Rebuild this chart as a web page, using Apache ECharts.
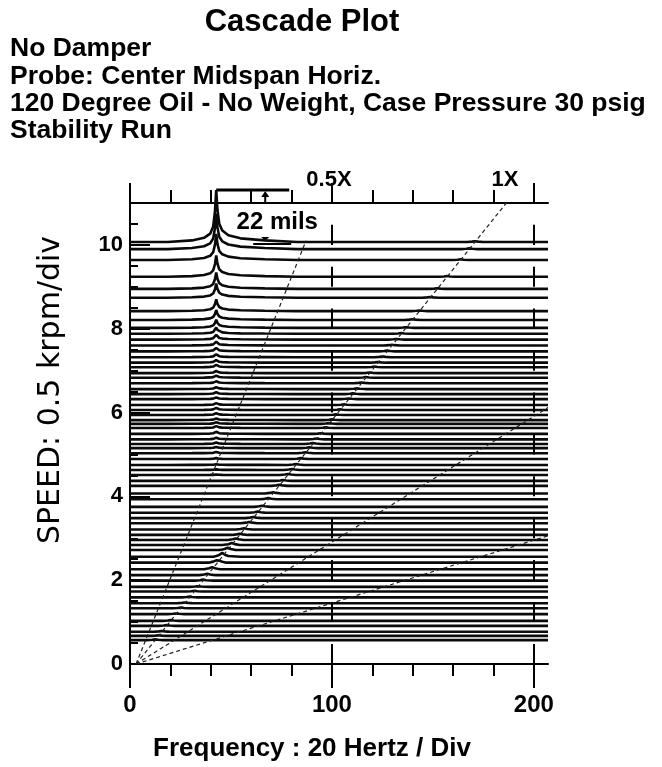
<!DOCTYPE html>
<html>
<head>
<meta charset="utf-8">
<script src="https://cdn.jsdelivr.net/npm/echarts@6/dist/echarts.min.js"></script>
<style>
  html, body { margin: 0; padding: 0; background: #fff; }
  #chart { width: 662px; height: 767px; }
</style>
</head>
<body>
<div id="chart"></div>
<script>
// spectrum traces, top to bottom: run speed (krpm)
var traceSpeeds = [10.07, 9.90, 9.64, 9.24, 8.95, 8.74, 8.42, 8.21, 8.02, 7.88,
    7.74, 7.60, 7.46, 7.32, 7.19, 7.08, 6.94, 6.83, 6.70, 6.56,
    6.44, 6.32, 6.18, 6.06, 5.94, 5.82, 5.73, 5.63, 5.49, 5.36,
    5.25, 5.15, 5.03, 4.89, 4.75, 4.63, 4.51, 4.37, 4.25, 4.07,
    3.93, 3.75, 3.61, 3.48, 3.36, 3.21, 3.08, 2.96, 2.84, 2.72,
    2.56, 2.42, 2.26, 2.12, 1.99, 1.84, 1.73, 1.59, 1.45, 1.33,
    1.19, 1.03, 0.91, 0.77, 0.67, 0.57];
// subsynchronous (whirl) peak amplitude, mils
var subAmps = [22, 15, 11, 9, 7, 6, 5, 4.2, 3.5, 2.6,
    2.0, 1.6, 1.4, 1.2, 1.1, 1.0, 0.9, 0.9, 0.8, 0.8,
    0.8, 0.7, 0.8, 0.9, 0.8, 0.7, 0.7, 0.8, 0.9, 0.7,
    0.6, 0.5, 0.5, 0.4, 0.3, 0.25, 0.2, 0, 0, 0,
    0, 0, 0, 0, 0, 0, 0, 0, 0, 0,
    0, 0, 0, 0, 0, 0, 0, 0, 0, 0,
    0, 0, 0, 0, 0, 0];
// synchronous (1X) amplitude, mils
var syncAmps = [0.3, 0.3, 0.3, 0.3, 0.3, 0.3, 0.3, 0.3, 0.3, 0.3,
    0.3, 0.3, 0.3, 0.3, 0.3, 0.3, 0.3, 0.3, 0.3, 0.3,
    0.3, 0.3, 0.3, 0.3, 0.3, 0.3, 0.3, 0.3, 0.3, 0.4,
    0.4, 0.4, 0.4, 0.4, 0.4, 0.4, 0.4, 0.4, 0.5, 0.5,
    0.5, 0.5, 0.5, 0.5, 0.5, 0.5, 0.5, 0.6, 0.8, 1.0,
    1.6, 1.2, 0.9, 0.6, 0.4, 0.3, 0.3, 0.3, 0.3, 0.3,
    0.3, 0.3, 0.3, 0.3, 0.3, 0.3];
var subFreq = 42.7;
// peak line shapes (offset Hz -> fraction of amplitude)
var subShapeHz = [-24, -12, -6, -3, -1.5, -0.6, 0, 0.6, 1.5, 3, 6, 12, 24, 40];
var subShapeFrac = [0, 0.03, 0.08, 0.16, 0.3, 0.6, 1, 0.62, 0.35, 0.22, 0.13, 0.07, 0.03, 0];
var syncShapeHz = [-4, -1.5, 0, 1.5, 4];
var syncShapeFrac = [0, 0.45, 1, 0.45, 0];
// amplitude scale: 22 mils drawn as 1.24 speed divisions
var scaleMils = 22;
var scaleHeight = 1.24;

// order lines
var orders = [0.5, 1, 2, 4];
var orderEndSpeed = [10.1, 11, 11, 11];
var orderOriginHz = 3;
var hzPerKrpm = 16.67;

// axes
var freqMax = 207;
var speedMax = 11;
var xMajor = [0, 100, 200];
var xMinor = [20, 40, 60, 80, 120, 140, 160, 180];
var yMajor = [0, 2, 4, 6, 8, 10];
var yMinor = [0.5, 1, 1.5, 2.5, 3, 3.5, 4.5, 5, 5.5, 6.5, 7, 7.5, 8.5, 9, 9.5, 10.5];
var gridMarkHz = [100, 200];
var gridMarkSpeeds = [0, 1, 2, 3, 4, 5, 6, 7, 8, 9, 10];

var FONT = '"Liberation Sans", Arial, sans-serif';

function shapeAt(offs, fracs, d) {
    if (d <= offs[0] || d >= offs[offs.length - 1]) return 0;
    for (var i = 1; i < offs.length; i++) {
        if (d <= offs[i]) {
            var t = (d - offs[i - 1]) / (offs[i] - offs[i - 1]);
            return fracs[i - 1] + t * (fracs[i] - fracs[i - 1]);
        }
    }
    return 0;
}

function buildTrace(i) {
    var s = traceSpeeds[i];
    var syncF = orderOriginHz + hzPerKrpm * s;
    var k = scaleHeight / scaleMils;
    var xs = [0, freqMax];
    subShapeHz.forEach(function (o) { xs.push(subFreq + o); });
    syncShapeHz.forEach(function (o) { xs.push(syncF + o); });
    xs = xs.filter(function (x) { return x >= 0 && x <= freqMax; })
        .sort(function (a, b) { return a - b; });
    var data = [];
    var last = -1;
    xs.forEach(function (x) {
        if (x - last < 0.01) return;
        last = x;
        var v = s + k * (subAmps[i] * shapeAt(subShapeHz, subShapeFrac, x - subFreq) +
            syncAmps[i] * shapeAt(syncShapeHz, syncShapeFrac, x - syncF));
        data.push([x, v]);
    });
    return data;
}

var series = [];
traceSpeeds.forEach(function (s, i) {
    series.push({
        type: 'line',
        data: buildTrace(i),
        symbol: 'none',
        clip: false,
        silent: true,
        z: 2,
        lineStyle: { color: '#0a0a0a', width: 2.6 }
    });
});

orders.forEach(function (o, i) {
    var end = Math.min(orderEndSpeed[i], (freqMax - orderOriginHz) / (hzPerKrpm * o));
    series.push({
        type: 'line',
        data: [[orderOriginHz, 0], [orderOriginHz + hzPerKrpm * o * end, end]],
        symbol: 'none',
        silent: true,
        z: 3,
        lineStyle: { color: '#222', width: 1.2, type: [4, 3] }
    });
});

var markData = [];
gridMarkHz.forEach(function (f) {
    gridMarkSpeeds.forEach(function (s) {
        markData.push([{ coord: [f, s] }, { coord: [f, s + 0.48] }]);
    });
});
series.push({
    type: 'line',
    data: [],
    silent: true,
    markLine: {
        symbol: ['none', 'none'],
        silent: true,
        animation: false,
        label: { show: false },
        lineStyle: { color: '#000', width: 2, type: 'solid' },
        data: markData
    }
});

var axisLine = { show: true, lineStyle: { color: '#000', width: 2 } };

var option = {
    animation: false,
    backgroundColor: '#fff',
    grid: { left: 130, right: 114, top: 203, bottom: 103, outerBoundsMode: 'none' },
    xAxis: [
        {
            type: 'value', min: 0, max: freqMax, position: 'bottom',
            axisLine: axisLine,
            axisTick: { customValues: xMajor, length: 24, lineStyle: { color: '#000', width: 2 } },
            axisLabel: { customValues: xMajor, margin: 29, color: '#000', fontSize: 24, fontWeight: 'bold', fontFamily: FONT },
            splitLine: { show: false }
        },
        {
            type: 'value', min: 0, max: freqMax, position: 'bottom', offset: 0,
            axisLine: { show: false },
            axisTick: { customValues: xMinor, length: 12, lineStyle: { color: '#000', width: 2 } },
            axisLabel: { show: false },
            splitLine: { show: false }
        },
        {
            type: 'value', min: 0, max: freqMax, position: 'top', offset: 0,
            axisLine: axisLine,
            axisTick: { customValues: xMajor, length: 20, lineStyle: { color: '#000', width: 2 } },
            axisLabel: { show: false },
            splitLine: { show: false }
        },
        {
            type: 'value', min: 0, max: freqMax, position: 'top', offset: 0,
            axisLine: { show: false },
            axisTick: { customValues: xMinor, length: 13, lineStyle: { color: '#000', width: 2 } },
            axisLabel: { show: false },
            splitLine: { show: false }
        }
    ],
    yAxis: [
        {
            type: 'value', min: 0, max: speedMax, position: 'left',
            axisLine: axisLine,
            axisTick: { inside: true, customValues: yMajor, length: 20, lineStyle: { color: '#000', width: 2 } },
            axisLabel: { customValues: yMajor, margin: 7, color: '#000', fontSize: 22, fontWeight: 'bold', fontFamily: FONT },
            splitLine: { show: false }
        },
        {
            type: 'value', min: 0, max: speedMax, position: 'left', offset: 0,
            axisLine: { show: false },
            axisTick: { inside: true, customValues: yMinor, length: 8, lineStyle: { color: '#000', width: 2 } },
            axisLabel: { show: false },
            splitLine: { show: false }
        }
    ],
    series: series
};

var chart = echarts.init(document.getElementById('chart'), null, { renderer: 'canvas' });
chart.setOption(option);

function txt(text, x, y, size, weight, align) {
    return {
        type: 'text', x: x, y: y, silent: true,
        style: {
            text: text, fill: '#000', fontSize: size, fontWeight: weight, fontFamily: FONT,
            align: align, verticalAlign: 'middle', textAlign: align, textVerticalAlign: 'middle'
        }
    };
}

var peakTop = chart.convertToPixel({ xAxisIndex: 0, yAxisIndex: 0 }, [subFreq, traceSpeeds[0] + scaleHeight]);
var peakBase = chart.convertToPixel({ xAxisIndex: 0, yAxisIndex: 0 }, [subFreq, traceSpeeds[0]]);
var frameTop = chart.convertToPixel({ xAxisIndex: 0, yAxisIndex: 0 }, [0, speedMax]);
var ax = peakTop[0] + 49;

var graphics = [
    txt('Cascade Plot', 302, 22, 31, 'bold', 'center'),
    txt('No Damper', 10, 49, 26.5, 'bold', 'left'),
    txt('Probe: Center Midspan Horiz.', 10, 77, 26.5, 'bold', 'left'),
    txt('120 Degree Oil - No Weight, Case Pressure 30 psig', 10, 104, 26.5, 'bold', 'left'),
    txt('Stability Run', 10, 131, 26.5, 'bold', 'left'),
    txt('0.5X', 329, 180, 22, 'bold', 'center'),
    txt('1X', 505, 180, 22, 'bold', 'center'),
    txt('22 mils', peakTop[0] + 61, (peakTop[1] + peakBase[1]) / 2 + 6, 24, 'bold', 'center'),
    txt('Frequency : 20 Hertz / Div', 312, 749, 26, 'bold', 'center'),
    {
        type: 'text', x: 51, y: 390, rotation: Math.PI / 2, silent: true,
        style: {
            text: 'SPEED: 0.5 krpm/div', fill: '#000', fontSize: 30, fontWeight: 'normal',
            fontFamily: '"DejaVu Sans", sans-serif',
            align: 'center', verticalAlign: 'middle', textAlign: 'center', textVerticalAlign: 'middle'
        }
    },
    { type: 'line', silent: true, shape: { x1: peakTop[0], y1: peakTop[1], x2: peakTop[0] + 73, y2: peakTop[1] }, style: { stroke: '#000', lineWidth: 3 } },
    { type: 'line', silent: true, shape: { x1: ax, y1: frameTop[1] - 1, x2: ax, y2: peakTop[1] + 5 }, style: { stroke: '#000', lineWidth: 2 } },
    { type: 'polygon', silent: true, shape: { points: [[ax - 4, peakTop[1] + 7], [ax + 4, peakTop[1] + 7], [ax, peakTop[1] + 1]] }, style: { fill: '#000' } },
    { type: 'polygon', silent: true, shape: { points: [[ax - 4, peakBase[1] - 5], [ax + 4, peakBase[1] - 5], [ax, peakBase[1] - 1]] }, style: { fill: '#000' } },
    { type: 'line', silent: true, shape: { x1: ax - 12, y1: peakBase[1] + 2, x2: ax + 26, y2: peakBase[1] + 2 }, style: { stroke: '#000', lineWidth: 2 } }
];

chart.setOption({ graphic: { elements: graphics } });
</script>
</body>
</html>
